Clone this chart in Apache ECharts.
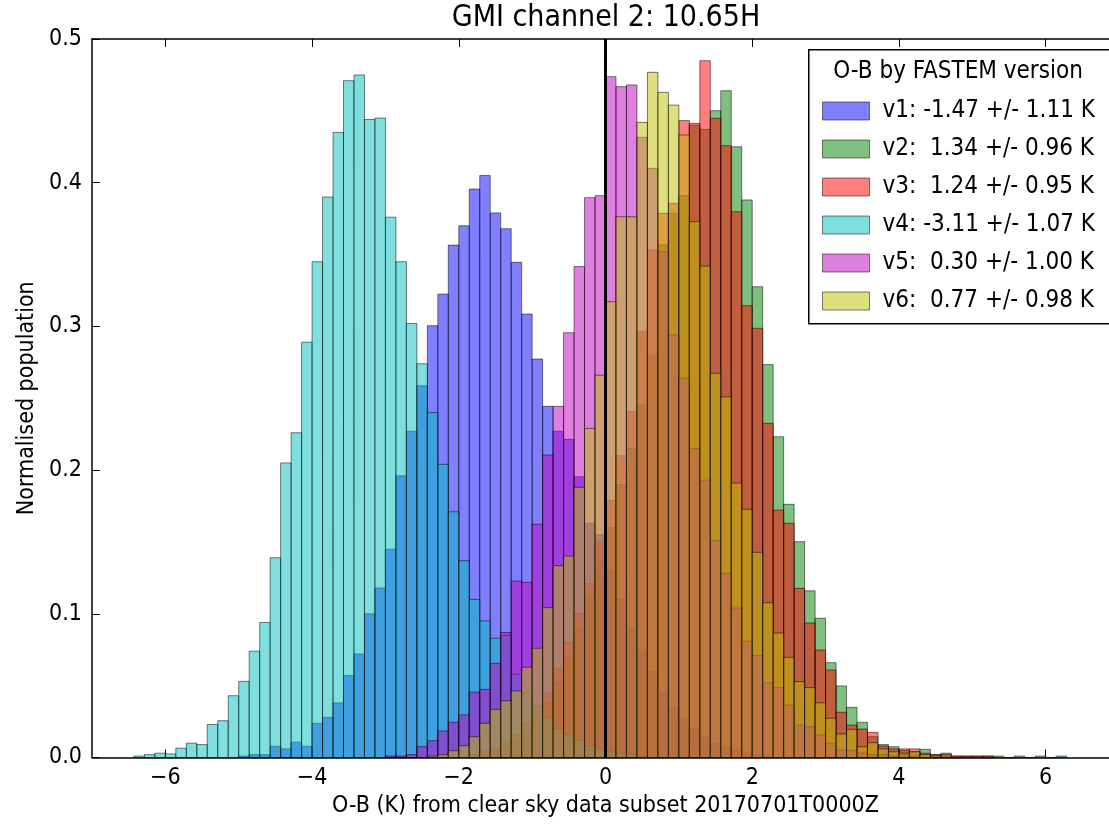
<!DOCTYPE html>
<html><head><meta charset="utf-8">
<script src="https://cdn.jsdelivr.net/npm/echarts@6/dist/echarts.min.js"></script>
<style>html,body{margin:0;padding:0;background:#fff;overflow:hidden;} #chart{width:1121px;height:827px;}</style>
</head><body><div id="chart"></div>
<script>
// ---- histogram binning (common bins for all series) ----
const BIN_MIN = -7;
const BIN_WIDTH = 1 / 7;
const X_MIN = -7, X_MAX = 7;
const xTickValues = [-6, -4, -2, 0, 2, 4, 6];
const yTickValues = [0, 0.1, 0.2, 0.3, 0.4, 0.5];
const zeroLineX = 0;

const titleText = 'GMI channel 2: 10.65H';
const xAxisName = 'O-B (K) from clear sky data subset 20170701T0000Z';
const yAxisName = 'Normalised population';
const legendTitle = 'O-B by FASTEM version';

const seriesNames = [
  'v1: -1.47 +/- 1.11 K',
  'v2:  1.34 +/- 0.96 K',
  'v3:  1.24 +/- 0.95 K',
  'v4: -3.11 +/- 1.07 K',
  'v5:  0.30 +/- 1.00 K',
  'v6:  0.77 +/- 0.98 K'
];
const seriesColors = ['#0000ff', '#008000', '#ff0000', '#00bfbf', '#bf00bf', '#bfbf00'];

// normalised population per bin; firstBin = index of first listed bin
const v1FirstBin = 14;
const v1Values = [0.001,0.002,0.002,0.0078,0.006,0.0107,0.0078,0.0238,0.028,0.038,0.057,0.072,0.100,0.118,0.145,0.196,0.227,0.2587,0.3005,0.3225,0.3566,0.370,0.3956,0.405,0.379,0.368,0.3446,0.3086,0.2773,0.2444,0.227,0.2214,0.1954,0.163,0.155,0.13,0.11,0.09,0.075,0.06,0.045,0.035,0.027,0.02,0.014,0.01,0.007,0.005,0.003,0.002,0.001];
const v2FirstBin = 36;
const v2Values = [0.002,0.003,0.005,0.008,0.012,0.018,0.028,0.038,0.052,0.07,0.09,0.111,0.135,0.16,0.19,0.215,0.2453,0.280,0.3567,0.3787,0.391,0.440,0.4371,0.4501,0.464,0.425,0.388,0.3276,0.2734,0.2232,0.1762,0.1502,0.116,0.0969,0.066,0.0498,0.0349,0.0245,0.0145,0.009,0.0075,0.005,0.004,0.0057,0.002,0.003,0.001,0.001,0.001,0.001,0.001,0,0.001,0,0.001,0,0.001];
const v3FirstBin = 36;
const v3Values = [0.002,0.004,0.007,0.011,0.016,0.024,0.035,0.045,0.062,0.08,0.10,0.121,0.15,0.179,0.21,0.2406,0.2963,0.3532,0.3787,0.3857,0.4432,0.4413,0.4849,0.4448,0.4258,0.3798,0.3144,0.2987,0.2326,0.1722,0.163,0.1177,0.0936,0.0748,0.0609,0.0315,0.0226,0.0198,0.0175,0.008,0.006,0.006,0.006,0.003,0.002,0.002,0.001,0.001,0.001,0.001];
const v4FirstBin = 4;
const v4Values = [0.001,0.002,0.003,0.0025,0.0065,0.010,0.009,0.023,0.0256,0.043,0.053,0.074,0.094,0.139,0.205,0.226,0.289,0.345,0.390,0.435,0.471,0.475,0.444,0.445,0.376,0.345,0.302,0.274,0.240,0.204,0.171,0.137,0.110,0.095,0.083,0.085,0.058,0.045,0.036,0.028,0.02,0.016,0.012,0.008,0.006,0.004,0.003,0.002,0.001];
const v5FirstBin = 28;
const v5Values = [0.001,0.001,0.002,0.0075,0.0117,0.0184,0.0245,0.0296,0.0454,0.0474,0.0655,0.087,0.1228,0.1219,0.1623,0.2105,0.2444,0.2956,0.3416,0.3896,0.391,0.4738,0.4668,0.468,0.4316,0.410,0.352,0.294,0.2639,0.215,0.193,0.151,0.128,0.104,0.081,0.071,0.052,0.0486,0.0365,0.0226,0.0214,0.0157,0.0099,0.0052,0.005,0.003,0.002,0.002,0.001,0.002,0.001];
const v6FirstBin = 32;
const v6Values = [0.001,0.002,0.0047,0.0082,0.0145,0.0238,0.0335,0.0395,0.0463,0.0628,0.076,0.1043,0.1335,0.1402,0.188,0.229,0.266,0.3172,0.3763,0.3763,0.442,0.4768,0.4629,0.454,0.4332,0.3729,0.342,0.2674,0.251,0.191,0.1727,0.1428,0.1077,0.0866,0.0697,0.0528,0.0486,0.0381,0.0273,0.0164,0.0196,0.0075,0.0103,0.006,0.004,0.003,0.004,0.002,0.001];

const allFirstBins = [v1FirstBin, v2FirstBin, v3FirstBin, v4FirstBin, v5FirstBin, v6FirstBin];
const allValues = [v1Values, v2Values, v3Values, v4Values, v5Values, v6Values];

const FONT = "'DejaVu Sans Condensed', 'DejaVu Sans', sans-serif";
const FS = 23;
const FS_LEGEND = 24;
const FS_TITLE = 30;

function hexToRgba(hex, a) {
  const n = parseInt(hex.slice(1), 16);
  return 'rgba(' + ((n >> 16) & 255) + ',' + ((n >> 8) & 255) + ',' + (n & 255) + ',' + a + ')';
}
function fmtX(v) { return v < 0 ? '\u2212' + Math.abs(v) : String(v); }

const histSeries = allValues.map((vals, si) => {
  const fill = hexToRgba(seriesColors[si], 0.5);
  return {
    type: 'custom',
    name: seriesNames[si],
    xAxisIndex: 0, yAxisIndex: 0,
    itemStyle: { color: fill, borderColor: 'rgba(0,0,0,0.5)', borderWidth: 1 },
    encode: { x: 0, y: 1 },
    silent: true,
    data: vals.map((v, i) => [BIN_MIN + (allFirstBins[si] + i + 0.5) * BIN_WIDTH, v]),
    renderItem: function (params, api) {
      const xc = api.value(0), v = api.value(1);
      const p0 = api.coord([xc - BIN_WIDTH / 2, v]);
      const p1 = api.coord([xc + BIN_WIDTH / 2, 0]);
      return {
        type: 'rect',
        shape: { x: p0[0], y: p0[1], width: p1[0] - p0[0], height: p1[1] - p0[1] },
        style: { fill: fill, stroke: 'rgba(0,0,0,0.5)', lineWidth: 1 }
      };
    }
  };
});

const zeroLine = {
  type: 'line', silent: true, symbol: 'none', z: 3,
  data: [[zeroLineX, yTickValues[0]], [zeroLineX, yTickValues[yTickValues.length - 1]]],
  lineStyle: { color: '#000', width: 3 }
};

const axisCommonX = {
  type: 'value', min: X_MIN, max: X_MAX,
  splitLine: { show: false },
  axisLine: { show: true, onZero: false, lineStyle: { color: '#000', width: 1.5 } },
  axisTick: { show: true, inside: true, length: 8, customValues: xTickValues, lineStyle: { color: '#000', width: 1 } }
};
const axisCommonY = {
  type: 'value', min: 0, max: 0.5, interval: 0.1,
  splitLine: { show: false },
  axisLine: { show: true, onZero: false, lineStyle: { color: '#000', width: 1.5 } },
  axisTick: { show: true, inside: true, length: 8, lineStyle: { color: '#000', width: 1 } }
};

const option = {
  animation: false,
  backgroundColor: '#fff',
  grid: { left: 92, top: 39, right: 2, bottom: 69.5, containLabel: false },
  xAxis: [
    Object.assign({}, axisCommonX, {
      position: 'bottom',
      name: xAxisName, nameLocation: 'middle', nameGap: 34,
      nameTextStyle: { fontFamily: FONT, fontSize: FS, color: '#000' },
      axisLabel: { show: true, customValues: xTickValues, formatter: fmtX, margin: 9, fontFamily: FONT, fontSize: FS, color: '#000' }
    }),
    Object.assign({}, axisCommonX, { position: 'top', axisLabel: { show: false } })
  ],
  yAxis: [
    Object.assign({}, axisCommonY, {
      position: 'left',
      name: yAxisName, nameLocation: 'middle', nameGap: 52, nameRotate: 90,
      nameTextStyle: { fontFamily: FONT, fontSize: FS, color: '#000' },
      axisLabel: { show: true, formatter: v => v.toFixed(1), margin: 10, fontFamily: FONT, fontSize: FS, color: '#000' }
    }),
    Object.assign({}, axisCommonY, { position: 'right', axisLabel: { show: false } })
  ],
  legend: {
    orient: 'vertical', left: 817, top: 94,
    itemWidth: 47, itemHeight: 18, itemGap: 14,
    icon: 'rect', selectedMode: false,
    itemStyle: { borderColor: 'rgba(0,0,0,0.5)', borderWidth: 1 },
    textStyle: { fontFamily: FONT, fontSize: FS_LEGEND, color: '#000', padding: [0, 0, 0, 8] },
    data: seriesNames
  },
  graphic: [
    { type: 'rect', z: 3, left: 808, top: 49, shape: { width: 320, height: 274 }, style: { fill: '#fff', stroke: '#000', lineWidth: 1.5 } },
    { type: 'text', z: 5, x: 958, y: 72, style: { text: legendTitle, font: FS_LEGEND + 'px ' + FONT, fill: '#000', align: 'center', verticalAlign: 'middle' } },
    { type: 'text', z: 5, x: 606, y: 18, style: { text: titleText, font: FS_TITLE + 'px ' + FONT, fill: '#000', align: 'center', verticalAlign: 'middle' } }
  ],
  series: histSeries.concat([zeroLine])
};

const chart = echarts.init(document.getElementById('chart'), null, { renderer: 'canvas' });
chart.setOption(option);
</script>
</body></html>
